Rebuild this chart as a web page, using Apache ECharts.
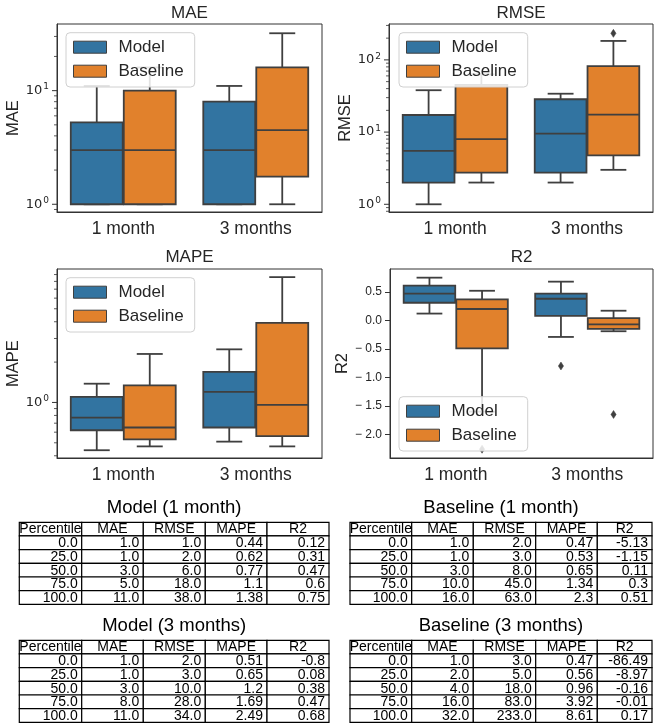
<!DOCTYPE html>
<html>
<head>
<meta charset="utf-8">
<script src="https://cdn.jsdelivr.net/npm/echarts@6/dist/echarts.min.js"></script>
<style>
html, body { margin: 0; padding: 0; background: #fff; }
#chart { width: 656px; height: 727px; }
</style>
</head>
<body>
<div id="chart"></div>
<script>
// ---------- data ----------
const categories = ['1 month', '3 months'];
const hueNames = ['Model', 'Baseline'];

// boxes: [category index, lower whisker, Q1, median, Q3, upper whisker]
const maeModel = [[0, 1, 1, 3, 5.25, 11], [1, 1, 1, 3, 8, 11]];
const maeBaseline = [[0, 1, 1, 3, 10, 16], [1, 1, 1.75, 4.5, 16, 32]];
const rmseModel = [[0, 1, 2, 5.5, 17.25, 38], [1, 2, 2.75, 9.5, 28.5, 34]];
const rmseBaseline = [[0, 2, 2.75, 8, 45, 63], [1, 3, 4.75, 17.5, 82, 183]];
const mapeModel = [[0, 0.44, 0.62, 0.77, 1.1, 1.38], [1, 0.51, 0.65, 1.2, 1.69, 2.49]];
const mapeBaseline = [[0, 0.47, 0.53, 0.65, 1.34, 2.3], [1, 0.47, 0.56, 0.96, 3.92, 8.61]];
const r2Model = [[0, 0.12, 0.31, 0.47, 0.61, 0.75], [1, -0.29, 0.08, 0.38, 0.47, 0.68]];
const r2Baseline = [[0, -1.6, -0.49, 0.2, 0.37, 0.52], [1, -0.19, -0.15, -0.07, 0.04, 0.17]];

// fliers: [category index, value]
const rmseBaselineFliers = [[1, 233]];
const r2ModelFliers = [[1, -0.8]];
const r2BaselineFliers = [[0, -2.26], [1, -1.65]];

// axis ranges and tick labels
const maeRange = [0.855, 38.6];
const rmseRange = [0.782, 314];
const mapeRange = [0.385, 9.9];
const r2Range = [-2.414, 0.902];
const r2TickValues = [-2, -1.5, -1, -0.5, 0, 0.5];

// percentile tables
const tableColumns = ['Percentile', 'MAE', 'RMSE', 'MAPE', 'R2'];
const percentileLabels = ['0.0', '25.0', '50.0', '75.0', '100.0'];
const modelMonth1Rows = [
  ['1.0', '1.0', '0.44', '0.12'],
  ['1.0', '2.0', '0.62', '0.31'],
  ['3.0', '6.0', '0.77', '0.47'],
  ['5.0', '18.0', '1.1', '0.6'],
  ['11.0', '38.0', '1.38', '0.75']
];
const baselineMonth1Rows = [
  ['1.0', '2.0', '0.47', '-5.13'],
  ['1.0', '3.0', '0.53', '-1.15'],
  ['3.0', '8.0', '0.65', '0.11'],
  ['10.0', '45.0', '1.34', '0.3'],
  ['16.0', '63.0', '2.3', '0.51']
];
const modelMonth3Rows = [
  ['1.0', '2.0', '0.51', '-0.8'],
  ['1.0', '3.0', '0.65', '0.08'],
  ['3.0', '10.0', '1.2', '0.38'],
  ['8.0', '28.0', '1.69', '0.47'],
  ['11.0', '34.0', '2.49', '0.68']
];
const baselineMonth3Rows = [
  ['1.0', '3.0', '0.47', '-86.49'],
  ['2.0', '5.0', '0.56', '-8.97'],
  ['4.0', '18.0', '0.96', '-0.16'],
  ['16.0', '83.0', '3.92', '-0.01'],
  ['32.0', '233.0', '8.61', '0.17']
];

// ---------- styling ----------
const FONT = '"Liberation Sans", Arial, sans-serif';
const TEXT = '#262626';
const EDGE = '#3f3f3f';
const SPINE = '#333';
const hueColors = { Model: '#3274a1', Baseline: '#e1812c' };
const hueSide = { Model: -1, Baseline: 1 };

const grids = [
  { left: 57, top: 24, width: 265, height: 188 },
  { left: 389, top: 24, width: 264, height: 188 },
  { left: 57, top: 269, width: 265, height: 189 },
  { left: 390, top: 269, width: 263, height: 189 }
];

// ---------- renderers ----------
function boxRenderer(hue) {
  const color = hueColors[hue];
  const side = hueSide[hue];
  return function (params, api) {
    const cat = api.value(0);
    const band = api.size([1, 0], [cat, api.value(3)])[0];
    const cx = api.coord([cat, api.value(3)])[0] + side * band * 0.2;
    const half = band * 0.392 / 2;
    const cap = half / 2;
    const y = i => api.coord([cat, api.value(i)])[1];
    const yLo = y(1), yQ1 = y(2), yMed = y(3), yQ3 = y(4), yHi = y(5);
    const ls = { stroke: EDGE, lineWidth: 1.8 };
    return {
      type: 'group',
      children: [
        { type: 'line', shape: { x1: cx, y1: yQ1, x2: cx, y2: yLo }, style: ls },
        { type: 'line', shape: { x1: cx, y1: yQ3, x2: cx, y2: yHi }, style: ls },
        { type: 'line', shape: { x1: cx - cap, y1: yLo, x2: cx + cap, y2: yLo }, style: ls },
        { type: 'line', shape: { x1: cx - cap, y1: yHi, x2: cx + cap, y2: yHi }, style: ls },
        { type: 'rect', shape: { x: cx - half, y: yQ3, width: 2 * half, height: yQ1 - yQ3 },
          style: { fill: color, stroke: EDGE, lineWidth: 1.8 } },
        { type: 'line', shape: { x1: cx - half, y1: yMed, x2: cx + half, y2: yMed }, style: ls }
      ]
    };
  };
}

function flierRenderer(hue) {
  const side = hueSide[hue];
  return function (params, api) {
    const cat = api.value(0);
    const p = api.coord([cat, api.value(1)]);
    const band = api.size([1, 0], [cat, api.value(1)])[0];
    const cx = p[0] + side * band * 0.2;
    const cy = p[1];
    return {
      type: 'polygon',
      shape: { points: [[cx, cy - 4], [cx + 2.6, cy], [cx, cy + 4], [cx - 2.6, cy]] },
      style: { fill: EDGE, stroke: EDGE, lineWidth: 0.5 }
    };
  };
}

// log-axis ticks (majors at powers of ten, minors at 2..9 of each decade)
function logTicks(range) {
  const out = [];
  const d0 = Math.floor(Math.log10(range[0]));
  const d1 = Math.ceil(Math.log10(range[1]));
  for (let d = d0; d <= d1; d++) {
    for (let k = 1; k <= 9; k++) {
      const v = k * Math.pow(10, d);
      if (v >= range[0] && v <= range[1]) out.push([0, v, k === 1 ? 1 : 0]);
    }
  }
  return out;
}
function tickRenderer(params, api) {
  const v = api.value(1);
  const p = api.coord([0, v]);
  const band = api.size([1, 0], [0, v])[0];
  const x0 = p[0] - band / 2;
  const len = api.value(2) ? 5 : 3;
  return {
    type: 'line',
    shape: { x1: x0 - len, y1: p[1], x2: x0, y2: p[1] },
    style: { stroke: SPINE, lineWidth: api.value(2) ? 1 : 0.8 }
  };
}

// ---------- axes ----------
function xAxisFor(i) {
  return {
    type: 'category', gridIndex: i, data: categories,
    axisLine: { onZero: false, lineStyle: { color: SPINE, width: 1 } },
    axisTick: { alignWithLabel: true, length: 5, lineStyle: { color: SPINE } },
    axisLabel: { fontSize: 17.5, color: TEXT, fontFamily: FONT, margin: 8 },
    splitLine: { show: false }
  };
}
function logLabel(v) {
  const l = Math.log10(v);
  const e = Math.round(l);
  return Math.abs(l - e) < 1e-6 ? '{b|10}{s|' + e + '}' : '';
}
function logYAxis(i, name, range) {
  return {
    type: 'log', logBase: 10, gridIndex: i, min: range[0], max: range[1],
    name: name, nameLocation: 'middle', nameGap: 27, nameRotate: 90,
    nameTextStyle: { fontSize: 16.5, color: TEXT, fontFamily: FONT },
    axisLine: { show: true, onZero: false, lineStyle: { color: SPINE, width: 1 } },
    axisTick: { show: false },
    splitLine: { show: false },
    axisLabel: {
      formatter: logLabel, margin: 8, color: TEXT,
      rich: {
        b: { fontSize: 13, fontFamily: '"DejaVu Sans"', color: TEXT },
        s: { fontSize: 9, fontFamily: '"DejaVu Sans"', color: TEXT, verticalAlign: 'top', padding: [0, 0, 7, 1] }
      }
    }
  };
}

// ---------- series ----------
const series = [];
function addBoxes(gridIdx, hue, data) {
  series.push({
    name: hue, type: 'custom', xAxisIndex: gridIdx, yAxisIndex: gridIdx,
    itemStyle: { color: hueColors[hue] },
    renderItem: boxRenderer(hue), data: data,
    encode: { x: 0, y: [1, 2, 3, 4, 5] }, z: 2
  });
}
function addFliers(gridIdx, hue, data) {
  series.push({
    name: hue, type: 'custom', xAxisIndex: gridIdx, yAxisIndex: gridIdx,
    itemStyle: { color: hueColors[hue] },
    renderItem: flierRenderer(hue), data: data,
    encode: { x: 0, y: 1 }, z: 2
  });
}
function addLogTicks(gridIdx, range) {
  series.push({
    type: 'custom', xAxisIndex: gridIdx, yAxisIndex: gridIdx,
    renderItem: tickRenderer, data: logTicks(range),
    encode: { x: 0, y: 1 }, silent: true, z: 1
  });
}

addBoxes(0, 'Model', maeModel);
addBoxes(0, 'Baseline', maeBaseline);
addLogTicks(0, maeRange);

addBoxes(1, 'Model', rmseModel);
addBoxes(1, 'Baseline', rmseBaseline);
addFliers(1, 'Baseline', rmseBaselineFliers);
addLogTicks(1, rmseRange);

addBoxes(2, 'Model', mapeModel);
addBoxes(2, 'Baseline', mapeBaseline);
addLogTicks(2, mapeRange);

addBoxes(3, 'Model', r2Model);
addBoxes(3, 'Baseline', r2Baseline);
addFliers(3, 'Model', r2ModelFliers);
addFliers(3, 'Baseline', r2BaselineFliers);

// ---------- legends ----------
function legendAt(left, top) {
  return {
    left: left, top: top, orient: 'vertical', z: 20,
    itemWidth: 33, itemHeight: 12, itemGap: 7,
    padding: [6, 11, 7.3, 7],
    backgroundColor: 'rgba(255,255,255,0.85)',
    borderColor: '#d0d0d0', borderWidth: 1, borderRadius: 4,
    selectedMode: false, icon: 'rect',
    textStyle: { fontSize: 17, color: TEXT, fontFamily: FONT, padding: [0, 0, 0, 7] },
    data: hueNames.map(n => ({
      name: n, itemStyle: { color: hueColors[n], borderColor: EDGE, borderWidth: 1 }
    }))
  };
}

// ---------- titles and tables ----------
const graphics = [];
function addText(text, x, y, size, align, color) {
  graphics.push({
    type: 'text', x: x, y: y, silent: true,
    style: { text: text, font: size + 'px ' + FONT, fill: color || TEXT,
      align: align, textAlign: align, verticalAlign: 'middle', textVerticalAlign: 'middle' }
  });
}
addText('MAE', 189.5, 13, 17, 'center');
addText('RMSE', 521, 13, 17, 'center');
addText('MAPE', 189.5, 257, 17, 'center');
addText('R2', 521.5, 257, 17, 'center');

function addTable(title, rows, left, top, colWidths) {
  const rowH = 13.67;
  const totalW = colWidths.reduce((a, b) => a + b, 0);
  addText(title, left + totalW / 2, top - 14, 18.5, 'center', '#000');
  const allRows = [tableColumns].concat(rows.map((r, i) => [percentileLabels[i]].concat(r)));
  allRows.forEach((r, ri) => {
    let x = left;
    r.forEach((cell, ci) => {
      const w = colWidths[ci];
      const y = top + ri * rowH;
      graphics.push({
        type: 'rect', silent: true,
        shape: { x: x, y: y, width: w, height: rowH },
        style: { fill: '#fff', stroke: '#000', lineWidth: 1.2 }
      });
      if (ri === 0) addText(cell, x + w / 2, y + rowH / 2 + 0.5, 14, 'center', '#000');
      else addText(cell, x + w - 4, y + rowH / 2 + 0.5, 14, 'right', '#000');
      x += w;
    });
  });
}
const leftCols = [62.4, 61.6, 62, 61.7, 62];
const rightCols = [61.7, 61.6, 62.4, 61.6, 54.7];
addTable('Model (1 month)', modelMonth1Rows, 19.3, 522.3, leftCols);
addTable('Baseline (1 month)', baselineMonth1Rows, 350, 522.3, rightCols);
addTable('Model (3 months)', modelMonth3Rows, 19.3, 640.3, leftCols);
addTable('Baseline (3 months)', baselineMonth3Rows, 350, 640.3, rightCols);

// ---------- option ----------
const chart = echarts.init(document.getElementById('chart'), null, { renderer: 'canvas' });
chart.setOption({
  animation: false,
  backgroundColor: '#fff',
  textStyle: { fontFamily: FONT },
  grid: grids.map(g => Object.assign({ show: true, borderColor: SPINE, borderWidth: 1, backgroundColor: '#fff' }, g)),
  xAxis: [0, 1, 2, 3].map(xAxisFor),
  yAxis: [
    logYAxis(0, 'MAE', maeRange),
    logYAxis(1, 'RMSE', rmseRange),
    logYAxis(2, 'MAPE', mapeRange),
    {
      type: 'value', gridIndex: 3, min: r2Range[0], max: r2Range[1],
      name: 'R2', nameLocation: 'middle', nameGap: 36, nameRotate: 90,
      nameTextStyle: { fontSize: 16.5, color: TEXT, fontFamily: FONT },
      axisLine: { show: true, onZero: false, lineStyle: { color: SPINE, width: 1 } },
      axisTick: { show: true, length: 5, customValues: r2TickValues, lineStyle: { color: SPINE } },
      splitLine: { show: false },
      axisLabel: {
        customValues: r2TickValues, margin: 8, fontSize: 12, color: TEXT, fontFamily: FONT,
        formatter: v => (v < 0 ? '\u2212 ' : '') + Math.abs(v).toFixed(1)
      }
    }
  ],
  legend: [legendAt(66, 32.7), legendAt(399, 32.7), legendAt(66, 277.7), legendAt(399, 396.7)],
  series: series,
  graphic: graphics
});
</script>
</body>
</html>
